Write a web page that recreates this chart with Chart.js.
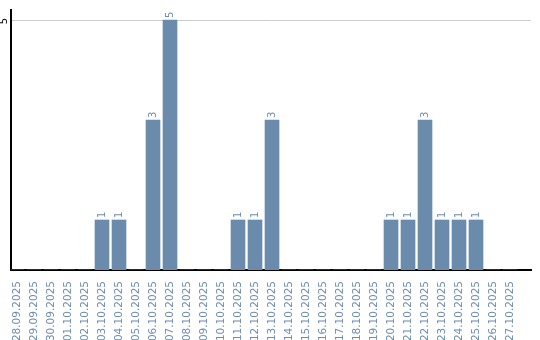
<!DOCTYPE html>
<html>
<head>
<meta charset="utf-8">
<script src="https://cdn.jsdelivr.net/npm/chart.js@4/dist/chart.umd.min.js"></script>
<style>
  html, body { margin: 0; padding: 0; background: #fff; }
  #wrap { width: 540px; height: 340px; }
</style>
</head>
<body>
<div id="wrap"><canvas id="chart" width="540" height="340"></canvas></div>
<script>
const dates = [
  '28.09.2025', '29.09.2025', '30.09.2025', '01.10.2025', '02.10.2025',
  '03.10.2025', '04.10.2025', '05.10.2025', '06.10.2025', '07.10.2025',
  '08.10.2025', '09.10.2025', '10.10.2025', '11.10.2025', '12.10.2025',
  '13.10.2025', '14.10.2025', '15.10.2025', '16.10.2025', '17.10.2025',
  '18.10.2025', '19.10.2025', '20.10.2025', '21.10.2025', '22.10.2025',
  '23.10.2025', '24.10.2025', '25.10.2025', '26.10.2025', '27.10.2025'
];
const counts = [0, 0, 0, 0, 0, 1, 1, 0, 3, 5, 0, 0, 0, 1, 1, 3, 0, 0, 0, 0, 0, 0, 1, 1, 3, 1, 1, 1, 0, 0];
const yTicks = [5];

const barColor = '#6a8bab';
const labelColor = '#6d8db0';
const fontFamily = '"DejaVu Sans", sans-serif';

// values above bars + y tick text, both rotated
const extras = {
  id: 'extras',
  afterDatasetsDraw(chart) {
    const ctx = chart.ctx;
    const meta = chart.getDatasetMeta(0);
    ctx.save();
    ctx.font = '10px ' + fontFamily;
    ctx.fillStyle = labelColor;
    ctx.textAlign = 'left';
    ctx.textBaseline = 'middle';
    meta.data.forEach((bar, i) => {
      if (!counts[i]) return;
      ctx.save();
      ctx.translate(bar.x, bar.y - 2);
      ctx.rotate(-Math.PI / 2);
      ctx.fillText(String(counts[i]), 0, 0);
      ctx.restore();
    });
    const y = chart.scales.y;
    ctx.fillStyle = '#000';
    ctx.textAlign = 'center';
    yTicks.forEach(t => {
      ctx.save();
      ctx.translate(y.left + 4, y.getPixelForValue(t) + 1);
      ctx.rotate(-Math.PI / 2);
      ctx.fillText(String(t), 0, 0);
      ctx.restore();
    });
    ctx.restore();
  }
};

new Chart(document.getElementById('chart').getContext('2d'), {
  type: 'bar',
  data: {
    datasets: [{
      data: counts.map((v, i) => ({ x: i, y: v })),
      backgroundColor: barColor,
      borderWidth: 0,
      barThickness: 14
    }]
  },
  options: {
    responsive: false,
    animation: false,
    layout: { padding: { left: 0, top: 10, right: 9, bottom: 0 } },
    plugins: {
      legend: { display: false },
      tooltip: { enabled: false }
    },
    scales: {
      x: {
        type: 'linear',
        offset: false,
        min: -0.353,
        max: 30.235,
        afterBuildTicks: s => { s.ticks = dates.map((d, i) => ({ value: i })); },
        afterFit: s => { s.height = 70; },
        grid: { display: false, offset: false },
        border: { color: '#000', width: 2 },
        ticks: {
          autoSkip: false,
          minRotation: 90,
          maxRotation: 90,
          padding: 3,
          color: labelColor,
          font: { family: fontFamily, size: 10.5 },
          callback: v => dates[v]
        }
      },
      y: {
        min: 0,
        max: 5.2,
        afterBuildTicks: s => { s.ticks = yTicks.map(v => ({ value: v })); },
        afterFit: s => { s.width = 11; },
        grid: { color: '#cccccc', lineWidth: 1, drawTicks: false },
        border: { color: '#000', width: 2 },
        ticks: { display: false }
      }
    }
  },
  plugins: [extras]
});
</script>
</body>
</html>
